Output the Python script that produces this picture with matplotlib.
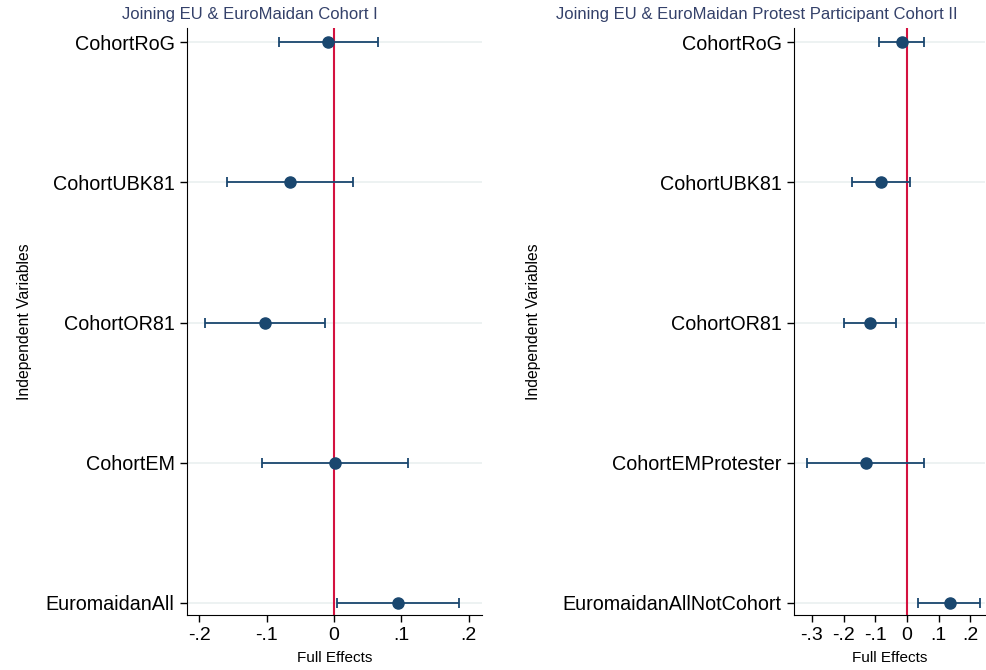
import matplotlib.pyplot as plt

plt.rcParams['font.family'] = ['Liberation Sans', 'DejaVu Sans']

# Cohort I
labels_1 = ['CohortRoG', 'CohortUBK81', 'CohortOR81', 'CohortEM', 'EuromaidanAll']
coef_1 = [-0.009, -0.065, -0.103, 0.002, 0.095]
lo_1 = [-0.082, -0.159, -0.192, -0.107, 0.005]
hi_1 = [0.065, 0.028, -0.013, 0.110, 0.185]

# Cohort II
labels_2 = ['CohortRoG', 'CohortUBK81', 'CohortOR81', 'CohortEMProtester', 'EuromaidanAllNotCohort']
coef_2 = [-0.016, -0.082, -0.117, -0.129, 0.136]
lo_2 = [-0.088, -0.174, -0.199, -0.315, 0.035]
hi_2 = [0.054, 0.009, -0.035, 0.054, 0.230]

ticks_1 = [-0.2, -0.1, 0, 0.1, 0.2]
ticklabels_1 = ['-.2', '-.1', '0', '.1', '.2']
ticks_2 = [-0.3, -0.2, -0.1, 0, 0.1, 0.2]
ticklabels_2 = ['-.3', '-.2', '-.1', '0', '.1', '.2']

navy = '#1a476f'
red = '#d4123f'
grid = '#eaf0f0'

fig = plt.figure(figsize=(9.87, 6.7), dpi=100)
ax1 = fig.add_axes([0.1895, 0.0821, 0.299, 0.876])
ax2 = fig.add_axes([0.8045, 0.0821, 0.1935, 0.876])


def draw(ax, labels, coef, lo, hi, ticks, ticklabels, xlim, ylab_x):
    y = list(range(len(labels)))
    for yi in y:
        ax.axhline(yi, color=grid, lw=1.2, zorder=0)
    ax.axvline(0, color=red, lw=1.5, zorder=1)
    err = [[c - l for c, l in zip(coef, lo)], [h - c for c, h in zip(coef, hi)]]
    ax.errorbar(coef, y, xerr=err, fmt='o', color=navy, ms=8, lw=1.3,
                capsize=3.6, capthick=1.3, zorder=3)
    ax.set_yticks(y)
    ax.set_yticklabels(labels, fontsize=14.2)
    ax.set_ylim(len(labels) - 1 + 0.086, -0.1)
    ax.set_xlim(*xlim)
    ax.set_xticks(ticks)
    ax.set_xticklabels(ticklabels, fontsize=14)
    ax.set_xlabel('Full Effects', fontsize=11)
    ax.xaxis.set_label_coords(0.5, -0.062)
    ax.set_ylabel('Independent Variables', fontsize=11.3)
    ax.yaxis.set_label_coords(ylab_x, 0.5)
    ax.spines['top'].set_visible(False)
    ax.spines['right'].set_visible(False)
    ax.tick_params(direction='out', length=5, width=1, pad=4)


draw(ax1, labels_1, coef_1, lo_1, hi_1, ticks_1, ticklabels_1, (-0.218, 0.220), -0.525)
draw(ax2, labels_2, coef_2, lo_2, hi_2, ticks_2, ticklabels_2, (-0.356, 0.246), -1.325)

fig.text(250 / 987, 1 - 15 / 670, 'Joining EU & EuroMaidan Cohort I',
         ha='center', va='center', fontsize=12, color='#34416a')
fig.text(757 / 987, 1 - 15 / 670, 'Joining EU & EuroMaidan Protest Participant Cohort II',
         ha='center', va='center', fontsize=12, color='#34416a')

fig.savefig('out.png', dpi=100, facecolor='white')
